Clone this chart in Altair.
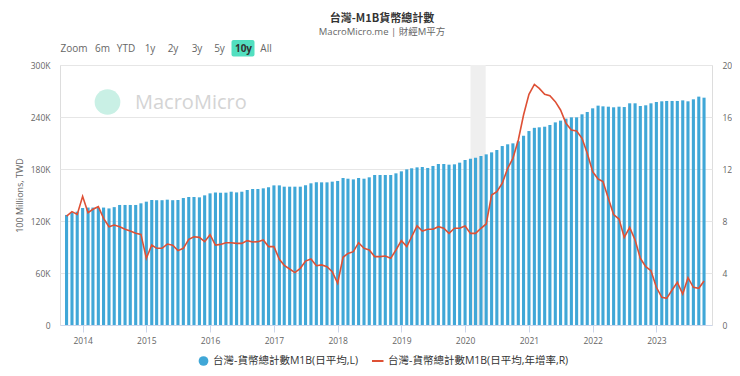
import altair as alt
import pandas as pd

# ---------------- data ----------------
months = pd.date_range("2013-10-01", periods=121, freq="MS").strftime("%Y-%m-%d").tolist()

# M1B (daily average), unit: 100 millions TWD, in thousands (K)
m1b = [127.0, 130.0, 130.8, 135.0, 135.5, 135.5, 135.0, 135.5, 134.5, 136.0,
       138.5, 138.5, 138.5, 138.5, 140.4, 142.3, 144.2, 144.0, 144.0, 144.6,
       144.0, 144.2, 146.5, 147.7, 147.7, 147.3, 149.6, 151.9, 153.0, 152.7,
       152.7, 153.8, 153.0, 153.8, 155.8, 156.9, 156.9, 157.7, 158.8, 161.1,
       161.1, 159.6, 159.6, 159.6, 159.6, 161.2, 163.5, 164.6, 164.6, 164.6,
       165.4, 166.2, 169.6, 168.8, 168.0, 169.6, 168.8, 170.4, 173.1, 173.1,
       173.1, 173.1, 175.0, 177.3, 179.6, 180.8, 181.9, 182.3, 181.2, 183.5,
       185.8, 185.8, 185.0, 185.4, 187.3, 190.4, 191.9, 193.1, 195.0, 196.9,
       199.2, 201.9, 206.5, 208.5, 209.6, 212.0, 218.3, 223.8, 227.5, 228.1,
       228.8, 230.8, 233.8, 235.8, 238.1, 239.6, 239.6, 243.1, 245.8, 250.0,
       253.1, 252.3, 251.9, 251.2, 251.9, 251.5, 255.8, 255.8, 252.7, 253.5,
       255.8, 257.3, 258.1, 258.5, 258.5, 258.5, 259.2, 258.1, 260.4, 263.5,
       262.3]

# YoY growth rate (%)
yoy = [8.38, 8.72, 8.51, 9.90, 8.64, 8.90, 9.10, 8.20, 7.56, 7.69,
       7.56, 7.36, 7.23, 7.05, 6.97, 5.13, 6.15, 5.90, 5.90, 6.23,
       6.13, 5.72, 5.90, 6.59, 6.79, 6.74, 6.41, 6.95, 6.15, 6.20,
       6.33, 6.33, 6.28, 6.28, 6.49, 6.38, 6.41, 6.54, 6.03, 6.03,
       5.05, 4.59, 4.31, 4.03, 4.36, 4.92, 5.08, 4.56, 4.62, 4.49,
       4.10, 3.21, 5.21, 5.51, 5.64, 6.33, 5.90, 5.77, 5.26, 5.26,
       5.31, 5.13, 5.77, 6.49, 6.03, 6.79, 7.62, 7.23, 7.36, 7.36,
       7.56, 7.44, 7.05, 7.44, 7.44, 7.62, 7.05, 7.05, 7.44, 7.77,
       10.00, 10.26, 10.90, 12.05, 12.82, 14.23, 16.15, 17.74, 18.51, 18.20,
       17.74, 17.64, 17.18, 16.54, 15.51, 15.00, 14.92, 14.36, 13.21, 11.79,
       11.23, 11.03, 9.74, 8.50, 8.15, 6.74, 7.51, 6.54, 5.13, 4.49,
       4.18, 2.90, 2.13, 2.05, 2.69, 3.28, 2.38, 3.64, 2.90, 2.82,
       3.38]

band_start = ["2020-02-01"]
band_end = ["2020-04-28"]

left_ticks = [0, 60, 120, 180, 240, 300]
right_ticks = [0, 4, 8, 12, 16, 20]

title_text = "台灣-M1B貨幣總計數"
subtitle_text = "MacroMicro.me | 財經M平方"
buttons = ["Zoom", "6m", "YTD", "1y", "2y", "3y", "5y", "10y", "All"]
legend_labels = ["台灣-貨幣總計數M1B(日平均,L)", "台灣-貨幣總計數M1B(日平均,年增率,R)"]
left_title = "100 Millions, TWD"

# ---------------- style ----------------
W, H = 652, 260
BLUE = "#40a7d7"
RED = "#de5035"
LATIN = "Open Sans, Noto Sans CJK TC"
CJK = "Noto Sans CJK TC"

df = pd.DataFrame({"date": months, "m1b": m1b, "yoy": yoy})
band_df = pd.DataFrame({"start": band_start, "end": band_end})

xscale = alt.Scale(domain=[alt.DateTime(year=2013, month=9, date=22),
                           alt.DateTime(year=2023, month=10, date=18)])
year_vals = [alt.DateTime(year=y, month=1, date=1) for y in range(2014, 2024)]

xaxis = alt.Axis(values=year_vals, format="%Y", title=None, grid=False,
                 domain=True, domainColor="#ccd6eb", ticks=True, tickColor="#ccd6eb",
                 tickSize=7, labelPadding=4, labelColor="#666666", labelFontSize=8.5,
                 labelFont=LATIN)

band = alt.Chart(band_df).mark_rect(color="#efefef").encode(
    x=alt.X("start:T", scale=xscale, axis=xaxis, title=None),
    x2="end:T",
    y=alt.value(0), y2=alt.value(H))

bars = alt.Chart(df).mark_bar(color=BLUE, size=3.1).encode(
    x=alt.X("date:T", scale=xscale, axis=xaxis, title=None),
    y=alt.Y("m1b:Q", scale=alt.Scale(domain=[0, 300], nice=False),
            axis=alt.Axis(orient="left", values=left_ticks, grid=True, gridColor="#e6e6e6",
                          domain=False, ticks=False, labelPadding=10,
                          labelExpr="datum.value == 0 ? '0' : datum.value + 'K'",
                          labelColor="#666666", labelFontSize=8.5, labelFont=LATIN,
                          title=left_title, titleColor="#666666", titleFontSize=9,
                          titleFontWeight="normal", titleFont=LATIN, titlePadding=6)))

line = alt.Chart(df).mark_line(color=RED, strokeWidth=1.6).encode(
    x=alt.X("date:T", scale=xscale, axis=xaxis, title=None),
    y=alt.Y("yoy:Q", scale=alt.Scale(domain=[0, 20], nice=False),
            axis=alt.Axis(orient="right", values=right_ticks, grid=False, domain=False,
                          ticks=False, labelPadding=10, labelColor="#666666",
                          labelFontSize=8.5, labelFont=LATIN, title=None)))


def txt(text, px, py, size=9, color="#666666", weight="normal", align="center", font=LATIN):
    return alt.Chart(pd.DataFrame({"t": [text]})).mark_text(
        fontSize=size, color=color, fontWeight=weight, align=align,
        baseline="middle", font=font).encode(x=alt.value(px), y=alt.value(py), text="t:N")


deco = []
# watermark
deco.append(alt.Chart(pd.DataFrame({"t": [1]})).mark_circle(color="#c9f0e5", opacity=1, size=660).encode(
    x=alt.value(47.5), y=alt.value(37)))
deco.append(txt("MacroMicro", 75, 38, size=20, color="#d4d4d4", align="left"))
# title / subtitle
deco.append(txt(title_text, 322, -46.5, size=11, color="#333333", weight="bold", font=CJK))
deco.append(txt(subtitle_text, 322, -33, size=9.5, color="#666666"))
# range selector
btn_x = [14, 42.5, 66, 90, 113, 137, 159.5, 183.5, 206]
deco.append(alt.Chart(pd.DataFrame({"t": [1]})).mark_rect(color="#52dfc0", cornerRadius=2).encode(
    x=alt.value(171.5), x2=alt.value(194.5), y=alt.value(-25), y2=alt.value(-8.5)))
for b, bx in zip(buttons, btn_x):
    deco.append(txt(b, bx, -16.5, size=10, color="#333333" if b == "10y" else "#666666",
                    weight="bold" if b == "10y" else "normal"))
# legend
LEG_Y = 296
deco.append(alt.Chart(pd.DataFrame({"t": [1]})).mark_circle(color=BLUE, opacity=1, size=95).encode(
    x=alt.value(143.5), y=alt.value(LEG_Y)))
deco.append(txt(legend_labels[0], 153, LEG_Y, size=10.5, color="#333333", align="left"))
deco.append(alt.Chart(pd.DataFrame({"t": [1]})).mark_rule(color=RED, strokeWidth=2).encode(
    x=alt.value(312), x2=alt.value(323.5), y=alt.value(LEG_Y)))
deco.append(txt(legend_labels[1], 328, LEG_Y, size=10.5, color="#333333", align="left"))

chart = alt.layer(band, bars, line, *deco).resolve_scale(y="independent").properties(
    width=W, height=H,
    autosize=alt.AutoSizeParams(type="none"),
    padding={"left": 52, "top": 57, "right": 20, "bottom": 43},
).configure_view(stroke=None).configure(background="white")

chart.save("out.html", embed_options={"renderer": "svg", "actions": False})
